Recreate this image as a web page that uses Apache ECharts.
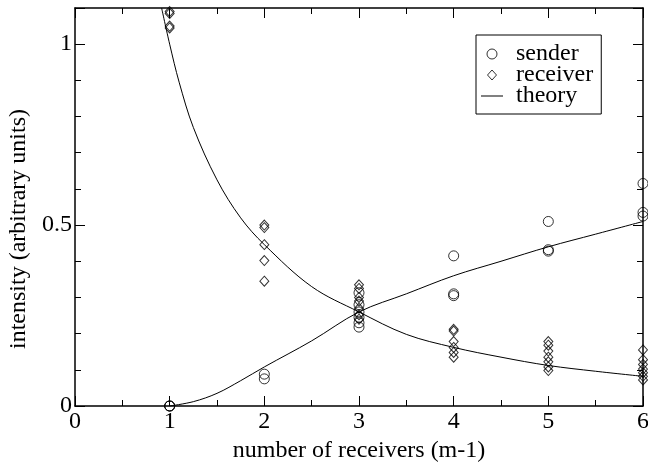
<!DOCTYPE html>
<html>
<head>
<meta charset="utf-8">
<script src="https://cdn.jsdelivr.net/npm/echarts@6/dist/echarts.min.js"></script>
<style>
  html, body { margin: 0; padding: 0; background: #fff; }
  #chart { width: 648px; height: 462px; }
</style>
</head>
<body>
<div id="chart"></div>
<script>
// Measured intensities of the sender, one point per run
const senderPoints = [
  [1, 0], [1, 0], [1, 0],
  [2, 0.088], [2, 0.075],
  [3, 0.313], [3, 0.28], [3, 0.26], [3, 0.245], [3, 0.23], [3, 0.218],
  [4, 0.415], [4, 0.31], [4, 0.305],
  [5, 0.51], [5, 0.432], [5, 0.428],
  [6, 0.615], [6, 0.535], [6, 0.525]
];

// Measured intensities of the receivers
const receiverPoints = [
  [1, 1.09], [1, 1.085], [1, 1.05], [1, 1.045],
  [2, 0.5], [2, 0.493], [2, 0.446], [2, 0.402], [2, 0.345],
  [3, 0.335], [3, 0.325], [3, 0.3], [3, 0.29], [3, 0.27], [3, 0.252], [3, 0.24],
  [4, 0.212], [4, 0.207], [4, 0.178], [4, 0.162], [4, 0.148], [4, 0.135],
  [5, 0.178], [5, 0.168], [5, 0.152], [5, 0.135], [5, 0.122], [5, 0.108], [5, 0.098],
  [6, 0.155], [6, 0.128], [6, 0.115], [6, 0.102], [6, 0.092], [6, 0.082], [6, 0.072]
];

// Theoretical curves
const senderTheory = [
  [1, 0], [1.25, 0.012], [1.5, 0.035], [1.75, 0.07], [2, 0.108], [2.5, 0.18],
  [3, 0.26], [3.5, 0.31], [4, 0.36], [4.5, 0.4], [5, 0.44], [5.5, 0.475], [6, 0.51]
];
const receiverTheory = [
  [0.915, 1.1], [1, 1.0], [1.1, 0.895], [1.25, 0.77], [1.5, 0.625], [1.75, 0.52],
  [2, 0.446], [2.5, 0.33], [3, 0.26], [3.5, 0.198], [4, 0.162], [4.5, 0.135],
  [5, 0.112], [5.5, 0.096], [6, 0.082]
];

const seriesNames = ['sender', 'receiver', 'theory'];
const xAxisTitle = 'number of receivers (m-1)';
const yAxisTitle = 'intensity (arbitrary units)';

const FONT = 'Liberation Serif';
const black = '#000';
const textBase = { color: black, fontFamily: FONT, fontSize: 24 };

function xAxisDef(pos, withLabels) {
  return {
    type: 'value', position: pos, min: 0, max: 6, interval: 1,
    axisLine: { show: true, onZero: false, lineStyle: { color: black, width: 1.5 } },
    axisTick: { show: true, inside: true, length: 10, lineStyle: { color: black, width: 1 } },
    minorTick: { show: true, splitNumber: 2, length: 6, lineStyle: { color: black, width: 1 } },
    splitLine: { show: false },
    axisLabel: Object.assign({ show: withLabels, margin: 4 }, textBase),
    name: withLabels ? xAxisTitle : '',
    nameLocation: 'middle', nameGap: 27,
    nameTextStyle: Object.assign({}, textBase)
  };
}
function yAxisDef(pos, withLabels) {
  return {
    type: 'value', position: pos, min: 0, max: 1.1, interval: 0.5,
    axisLine: { show: true, onZero: false, lineStyle: { color: black, width: 1.5 } },
    axisTick: { show: true, inside: true, length: 10, lineStyle: { color: black, width: 1 } },
    minorTick: { show: true, splitNumber: 5, length: 6, lineStyle: { color: black, width: 1 } },
    splitLine: { show: false },
    axisLabel: Object.assign({
      show: withLabels, margin: 3,
      formatter: v => (v > 1.05 ? '' : String(v))
    }, textBase),
    name: withLabels ? yAxisTitle : '',
    nameLocation: 'middle', nameGap: 40, nameRotate: 90,
    nameTextStyle: Object.assign({ padding: [0, 44, 0, 0] }, textBase)
  };
}

const hollow = { color: 'rgba(0,0,0,0)', borderColor: black, borderWidth: 1 };

const chart = echarts.init(document.getElementById('chart'), null, { renderer: 'canvas' });
chart.setOption({
  animation: false,
  backgroundColor: '#fff',
  textStyle: textBase,
  grid: { left: 75, right: 5, top: 8, bottom: 56, containLabel: false, outerBoundsMode: 'none' },
  xAxis: [xAxisDef('bottom', true), xAxisDef('top', false)],
  yAxis: [yAxisDef('left', true), yAxisDef('right', false)],
  legend: {
    orient: 'vertical', left: 476, top: 35,
    padding: [7, 8, 6, 5], itemGap: -3, itemWidth: 22, itemHeight: 10,
    symbolKeepAspect: true,
    borderColor: black, borderWidth: 1, backgroundColor: '#fff',
    textStyle: Object.assign({ lineHeight: 21, padding: [0, 0, 0, 8] }, textBase),
    data: [
      { name: seriesNames[0], icon: 'path://M10,5A5,5 0 1,1 0,5A5,5 0 1,1 10,5Z', itemStyle: hollow },
      { name: seriesNames[1], icon: 'path://M4.5,0L9,5L4.5,10L0,5Z', itemStyle: hollow },
      { name: seriesNames[2], icon: 'path://M0,0L22,0L22,1L0,1Z', itemStyle: { color: black, borderWidth: 0 } }
    ]
  },
  series: [
    {
      name: seriesNames[2], type: 'line', data: senderTheory, xAxisIndex: 0, yAxisIndex: 0,
      symbol: 'none', smooth: 0.35,
      lineStyle: { color: black, width: 1 }, itemStyle: { color: black }
    },
    {
      name: seriesNames[2], type: 'line', data: receiverTheory, xAxisIndex: 0, yAxisIndex: 0,
      symbol: 'none', smooth: 0.35,
      lineStyle: { color: black, width: 1 }, itemStyle: { color: black }
    },
    {
      name: seriesNames[0], type: 'scatter', data: senderPoints, xAxisIndex: 0, yAxisIndex: 0,
      symbol: 'circle', symbolSize: 10, clip: false, itemStyle: hollow
    },
    {
      name: seriesNames[1], type: 'scatter', data: receiverPoints, xAxisIndex: 0, yAxisIndex: 0,
      symbol: 'diamond', symbolSize: [9, 10], clip: false, itemStyle: hollow
    }
  ]
});
</script>
</body>
</html>
